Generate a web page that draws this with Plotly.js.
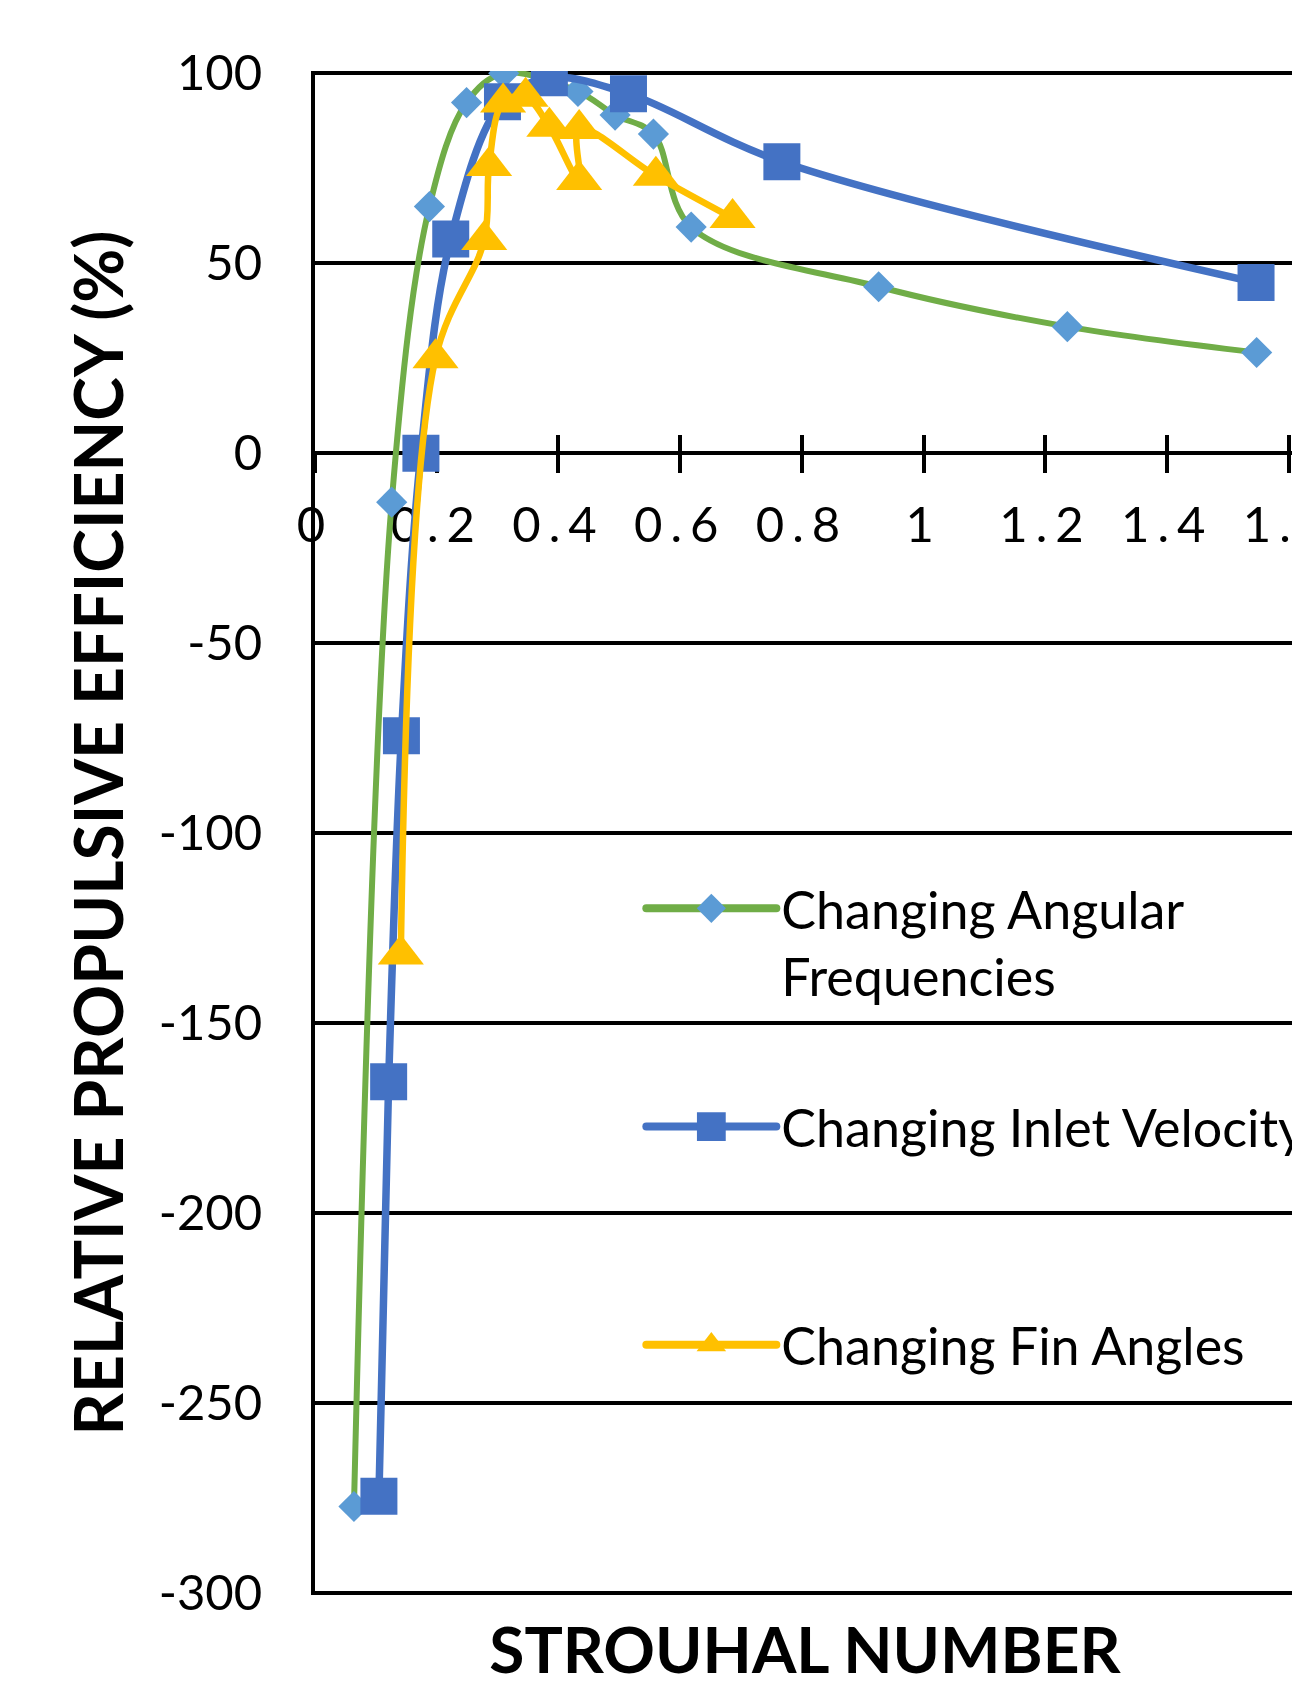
<!DOCTYPE html>
<html>
<head>
<meta charset="utf-8">
<script src="https://cdn.plot.ly/plotly-3.0.1.min.js"></script>
<style>
  html, body { margin: 0; padding: 0; overflow: hidden; background: #fff; width: 1292px; height: 1687px; }
  #chart { width: 1600px; height: 1687px; }
  .x2tick text { letter-spacing: 8px; }
</style>
</head>
<body>
<div id="chart"></div>
<script>
// Relative propulsive efficiency against Strouhal number for three parameter sweeps

// Sweep 1: angular frequency
const angularSt  = [0.064, 0.126, 0.188, 0.249, 0.310, 0.432, 0.493, 0.556, 0.618, 0.926, 1.236, 1.547];
const angularEff = [-277.3, -12.9, 64.9, 92.3, 100.0, 95.2, 89.0, 84.0, 59.5, 43.8, 33.3, 26.5];

// Sweep 2: inlet velocity
const inletSt  = [0.105, 0.121, 0.142, 0.174, 0.223, 0.308, 0.385, 0.515, 0.767, 1.546];
const inletEff = [-274.6, -165.5, -74.4, 0.0, 56.4, 92.5, 98.8, 94.6, 76.7, 44.9];

// Sweep 3: fin angle
const finSt  = [0.141, 0.198, 0.278, 0.286, 0.309, 0.346, 0.385, 0.434, 0.434, 0.560, 0.686];
const finEff = [-132.0, 25.0, 56.1, 75.6, 92.3, 93.8, 85.9, 71.9, 85.3, 73.0, 61.9];

const seriesNames = [
  'Changing Angular<br>Frequencies',
  'Changing Inlet Velocity<br> ',
  'Changing Fin Angles<br> '
];

const xTickVals = [0, 0.2, 0.4, 0.6, 0.8, 1, 1.2, 1.4, 1.6];
const xTickText = ['0', '0.2', '0.4', '0.6', '0.8', '1', '1.2', '1.4', '1.6'];
const yTickVals = [-300, -250, -200, -150, -100, -50, 0, 50, 100];
const yTickText = ['-300', '-250', '-200', '-150', '-100', '-50', '0', '50', '100'];

const xTitle = 'STROUHAL NUMBER';
const yTitle = 'RELATIVE PROPULSIVE EFFICIENCY (%)';

const FONT = 'Lato, "Open Sans", sans-serif';
const X_RANGE = [0, 1.61];
// a hair of padding so the gridlines at 100 and -300 are kept
const Y_RANGE = [-300.6, 100.6];

// each sweep sits on one of three x axes that share the same range:
// x carries the title at the bottom, x2 the labelled crossing axis, x3 the inner tick halves
const traces = [
  {
    x: angularSt, y: angularEff, name: seriesNames[0], legendgroup: 'g1',
    xaxis: 'x', yaxis: 'y',
    type: 'scatter', mode: 'lines+markers', hoverinfo: 'skip',
    line: { color: '#70AD47', width: 6, shape: 'spline', smoothing: 1 },
    marker: { symbol: 'diamond', size: 24, color: '#5B9BD5', line: { width: 0 } }
  },
  {
    x: inletSt, y: inletEff, name: seriesNames[1], legendgroup: 'g2',
    xaxis: 'x2', yaxis: 'y',
    type: 'scatter', mode: 'lines+markers', hoverinfo: 'skip',
    line: { color: '#4472C4', width: 7.5, shape: 'spline', smoothing: 1 },
    marker: { symbol: 'square', size: 37, color: '#4472C4', line: { width: 0 } }
  },
  {
    x: finSt, y: finEff, name: seriesNames[2], legendgroup: 'g3',
    xaxis: 'x3', yaxis: 'y',
    type: 'scatter', mode: 'lines+markers', hoverinfo: 'skip',
    line: { color: '#FFC000', width: 6.5, shape: 'spline', smoothing: 1 },
    marker: { symbol: 'triangle-up', size: 40, color: '#FFC000', line: { width: 0 } }
  }
];

const W = 1600, H = 1687;
const mL = 315, mT = 71, mB = 92;
const plotW = 980;
const zeroFrac = (0 - Y_RANGE[0]) / (Y_RANGE[1] - Y_RANGE[0]);

const layout = {
  width: W, height: H,
  margin: { l: mL, r: W - mL - plotW, t: mT, b: mB, pad: 0 },
  paper_bgcolor: '#ffffff',
  plot_bgcolor: '#ffffff',
  font: { family: FONT, color: '#000000' },
  showlegend: true,
  legend: {
    x: 0.333, y: 0.477, xanchor: 'left', yanchor: 'top',
    bgcolor: 'rgba(0,0,0,0)', borderwidth: 0,
    font: { family: FONT, size: 52, color: '#000000' },
    traceorder: 'grouped', tracegroupgap: 80,
    valign: 'top', itemwidth: 130
  },
  xaxis: {
    range: X_RANGE, anchor: 'y', side: 'bottom',
    showgrid: false, zeroline: false, showline: false,
    showticklabels: false, ticks: '',
    title: { text: xTitle, font: { family: FONT, size: 64, weight: 'bold', color: '#000' }, standoff: 34 }
  },
  xaxis2: {
    overlaying: 'x', matches: 'x', anchor: 'free', position: zeroFrac, side: 'bottom',
    range: X_RANGE, tickmode: 'array', tickvals: xTickVals, ticktext: xTickText,
    ticks: 'outside', ticklen: 18, tickwidth: 4, tickcolor: '#000',
    showline: true, linecolor: '#000', linewidth: 4,
    showgrid: false, zeroline: false, layer: 'below traces',
    tickfont: { family: FONT, size: 49, color: '#000' }, ticklabelstandoff: 10
  },
  xaxis3: {
    overlaying: 'x', matches: 'x', anchor: 'free', position: zeroFrac, side: 'bottom',
    range: X_RANGE, tickmode: 'array', tickvals: xTickVals,
    ticks: 'inside', ticklen: 18, tickwidth: 4, tickcolor: '#000',
    showline: false, showgrid: false, zeroline: false, showticklabels: false,
    layer: 'below traces'
  },
  yaxis: {
    range: Y_RANGE, tickmode: 'array', tickvals: yTickVals, ticktext: yTickText,
    showgrid: true, gridcolor: '#000', gridwidth: 4,
    zeroline: false, showline: true, linecolor: '#000', linewidth: 4,
    ticks: '', tickfont: { family: FONT, size: 49, color: '#000' },
    ticklabelstandoff: 39,
    title: { text: yTitle, font: { family: FONT, size: 66, weight: 'bold', color: '#000' }, standoff: 15 }
  }
};

// legend swatches: thicker round-capped lines and larger symbols
const legendLineWidth = 8;
const legendMarkerScale = [1.4, 1.8, 1.6];

Plotly.newPlot('chart', traces, layout, { staticPlot: true, displayModeBar: false }).then(function (gd) {
  const items = gd.querySelectorAll('.legend .traces');
  items.forEach(function (item, i) {
    item.querySelectorAll('.legendlines path').forEach(function (p) {
      p.style.strokeWidth = legendLineWidth + 'px';
      p.style.strokeLinecap = 'round';
    });
    item.querySelectorAll('.legendpoints path.scatterpts').forEach(function (p) {
      const t = p.getAttribute('transform') || '';
      p.setAttribute('transform', t + ' scale(' + legendMarkerScale[i] + ')');
    });
  });
});
</script>
</body>
</html>
